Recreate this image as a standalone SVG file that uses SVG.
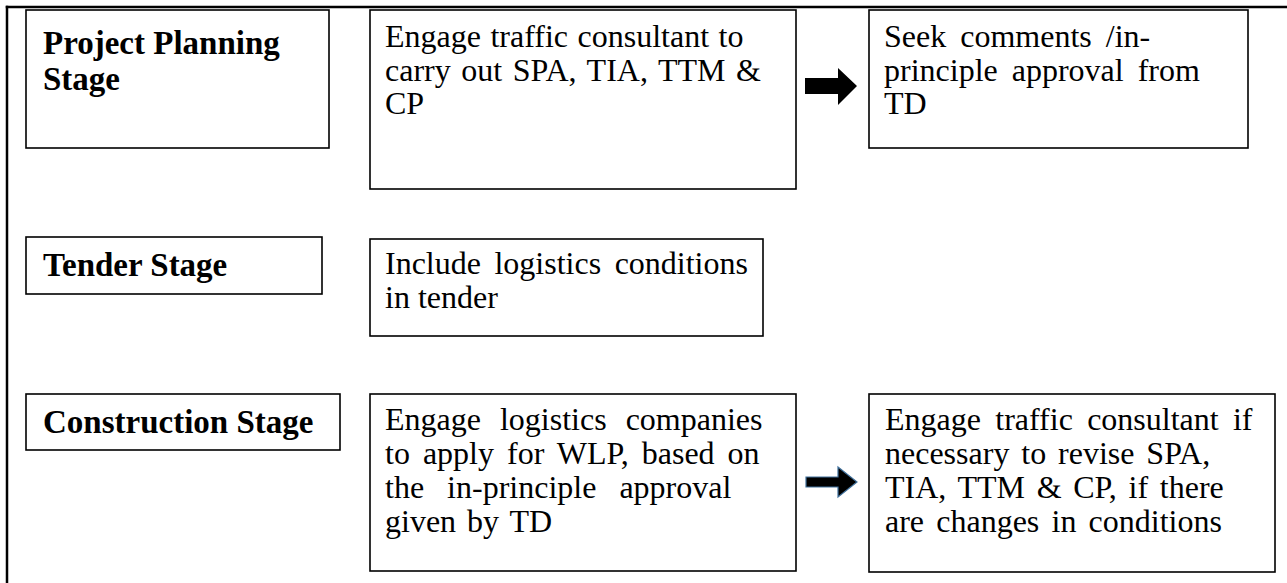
<svg xmlns="http://www.w3.org/2000/svg" width="1287" height="583" viewBox="0 0 1287 583">
<style>
.box{fill:#fff;stroke:#000;stroke-width:1.6}
.t{font-family:'Liberation Serif','Times New Roman',Times,serif;font-size:32px;fill:#000}
.b{font-family:'Liberation Serif','Times New Roman',Times,serif;font-size:33px;font-weight:bold;fill:#000}
.frame{stroke:#000;stroke-width:2.5;fill:none}
</style>
<rect x="0" y="0" width="1287" height="583" fill="#fff"/>
<g id="frame">
<line class="frame" x1="5.75" y1="7" x2="1287" y2="7"/>
<line class="frame" x1="7" y1="5.75" x2="7" y2="583"/>
</g>
<g id="project-planning">
<rect class="box" x="26" y="10" width="303" height="138"/>
<text class="b" x="43" y="54">Project Planning</text>
<text class="b" x="43" y="90">Stage</text>
</g>
<g id="engage-consultant">
<rect class="box" x="370" y="10" width="426" height="179"/>
<text class="t" x="385" y="47" style="word-spacing:1.5px">Engage traffic consultant to</text>
<text class="t" x="385" y="81" style="word-spacing:2.6px">carry out SPA, TIA, TTM &amp;</text>
<text class="t" x="385" y="114">CP</text>
</g>
<g id="seek-comments">
<rect class="box" x="869" y="10" width="379" height="138"/>
<text class="t" x="884" y="47" style="word-spacing:6px">Seek comments /in-</text>
<text class="t" x="884" y="81" style="word-spacing:6px">principle approval from</text>
<text class="t" x="884" y="114">TD</text>
</g>
<g id="tender-stage">
<rect class="box" x="26" y="237" width="296" height="57"/>
<text class="b" x="43" y="276">Tender Stage</text>
</g>
<g id="include-logistics">
<rect class="box" x="370" y="239" width="393" height="97"/>
<text class="t" x="385" y="274" style="word-spacing:5.5px">Include logistics conditions</text>
<text class="t" x="385" y="308">in tender</text>
</g>
<g id="construction-stage">
<rect class="box" x="26" y="394" width="314" height="56"/>
<text class="b" x="43" y="433">Construction Stage</text>
</g>
<g id="engage-logistics">
<rect class="box" x="370" y="394" width="426" height="177"/>
<text class="t" x="385" y="430" style="word-spacing:11px">Engage logistics companies</text>
<text class="t" x="385" y="464" style="word-spacing:5px">to apply for WLP, based on</text>
<text class="t" x="385" y="498" style="word-spacing:15px">the in-principle approval</text>
<text class="t" x="385" y="532" style="word-spacing:3px">given by TD</text>
</g>
<g id="revise-consultant">
<rect class="box" x="869" y="394" width="406" height="178"/>
<text class="t" x="885" y="430" style="word-spacing:6.3px">Engage traffic consultant if</text>
<text class="t" x="885" y="464" style="word-spacing:3.9px">necessary to revise SPA,</text>
<text class="t" x="885" y="498" style="word-spacing:3.7px">TIA, TTM &amp; CP, if there</text>
<text class="t" x="885" y="532" style="word-spacing:4.2px">are changes in conditions</text>
</g>
<g id="connectors">
<polygon points="805,78 838,78 838,68 857,86 838,105 838,94 805,94" fill="#000"/>
<polygon points="806,477 838,477 838,467 857,482 838,497 838,487 806,487" fill="#000" stroke="#41719c" stroke-width="1.2"/>
</g>
</svg>
